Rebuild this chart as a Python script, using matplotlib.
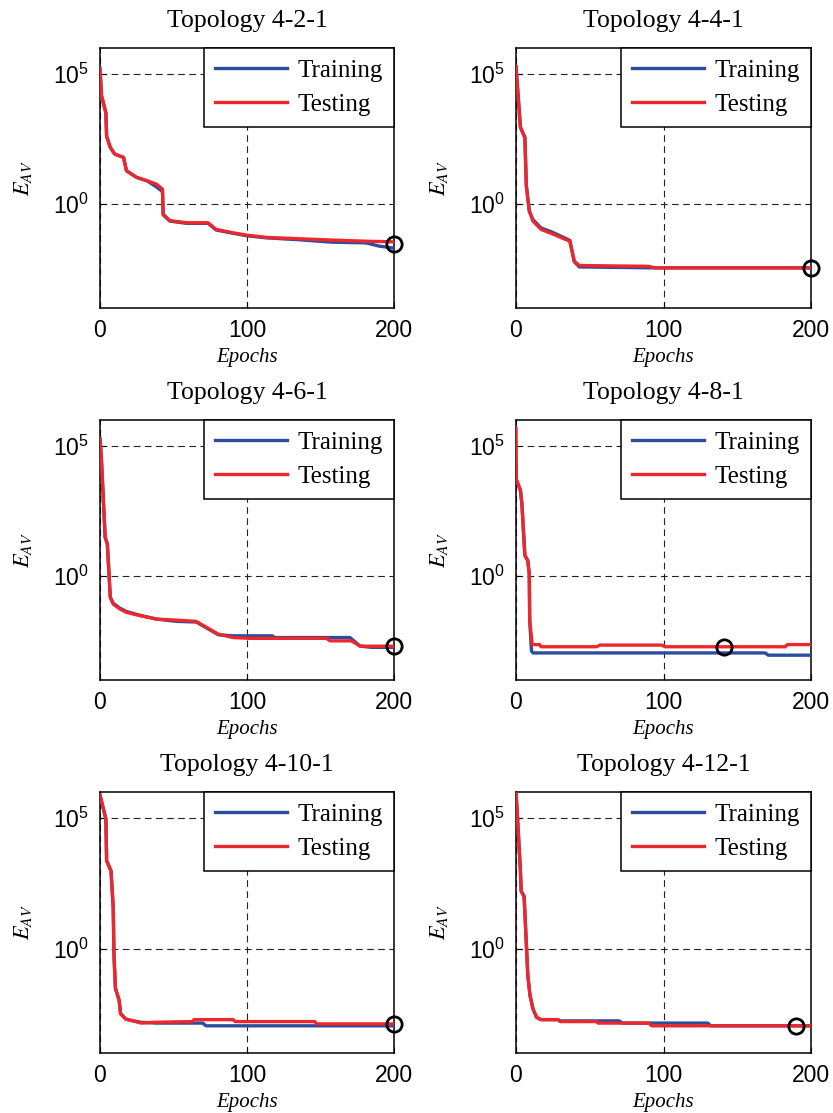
import matplotlib
matplotlib.use("Agg")
import matplotlib.pyplot as plt
from matplotlib.ticker import FixedLocator, NullLocator

plt.rcParams['font.family'] = ['Liberation Sans', 'DejaVu Sans']
plt.rcParams['mathtext.fontset'] = 'stix'

titles = ["Topology 4-2-1", "Topology 4-4-1", "Topology 4-6-1",
          "Topology 4-8-1", "Topology 4-10-1", "Topology 4-12-1"]

# ---- data (epoch, E_AV) ----
train_ep = [
    [0, 1, 4, 4.5, 7, 10, 16, 18, 25, 32, 38.5, 42.5, 43, 47.5, 59, 73.5, 79, 90.5, 100, 113, 136, 158, 181, 190, 200],
    [0, 3, 6, 7, 9, 11.5, 17, 24, 31, 36.5, 39.5, 43, 94, 200],
    [0, 1, 3.5, 5, 7, 9, 13.5, 18, 27, 38.5, 52, 65.5, 72.5, 80.5, 90.5, 117, 119, 170, 177, 185, 200],
    [0, 3, 4, 6, 8, 9, 9.3, 10.5, 11.5, 169, 171, 200],
    [0, 4, 4.5, 7.5, 9, 9.5, 10.5, 13, 14, 17.5, 22.5, 28, 38.5, 70, 72, 200],
    [0, 1.5, 3, 3.5, 5.5, 6.5, 8, 9.5, 11.5, 14, 17, 28.5, 30, 70, 72, 130, 132, 200],
]
train_val = [
    [1.6e5, 1.5e4, 3.2e3, 400, 150, 83, 62, 19, 10.5, 7.8, 4.5, 3.0, 0.38, 0.22, 0.18, 0.18, 0.10, 0.075, 0.060, 0.050, 0.042, 0.034, 0.032, 0.024, 0.020],
    [1.9e5, 890, 360, 5.0, 0.54, 0.25, 0.12, 0.085, 0.056, 0.040, 0.0060, 0.0038, 0.0035, 0.0035],
    [1.9e5, 2.8e4, 31, 17, 0.15, 0.09, 0.058, 0.043, 0.031, 0.022, 0.018, 0.017, 0.0100, 0.0055, 0.0050, 0.0050, 0.0043, 0.0043, 0.0020, 0.0018, 0.0018],
    [5.6e3, 2.0e3, 600, 6.2, 3.9, 1.2, 0.019, 0.0013, 0.0011, 0.0011, 0.0009, 0.0009],
    [7.6e5, 9.3e4, 2.3e3, 950, 36, 0.58, 0.030, 0.0105, 0.0032, 0.0020, 0.0017, 0.0015, 0.0014, 0.0014, 0.0011, 0.0011],
    [1.0e6, 3.3e4, 950, 160, 100, 6.2, 0.095, 0.016, 0.0049, 0.0023, 0.0019, 0.0019, 0.0017, 0.0017, 0.0014, 0.0014, 0.0011, 0.0011],
]
test_ep = [
    [0, 1, 4, 4.5, 7, 10, 16, 18, 25, 32, 38.5, 42.5, 43, 47.5, 59, 73.5, 79, 90.5, 100, 113, 136, 158, 181, 200],
    [0, 3, 6, 7, 9, 11.5, 17, 24, 31, 36.5, 39.5, 43, 90, 94, 200],
    [0, 1, 3.5, 5, 7, 9, 13.5, 18, 27, 38.5, 52, 65.5, 72.5, 80.5, 90.5, 102, 154, 156.5, 171, 177, 200],
    [0, 0.3, 3, 4, 6, 8, 9, 9.3, 11, 16, 17, 54.5, 57, 99, 101, 182.5, 184, 200],
    [0, 4, 4.5, 7.5, 9, 9.5, 10.5, 13, 14, 17.5, 22.5, 28, 36.5, 63, 64, 90.5, 92, 146, 147.5, 200],
    [0, 1.5, 3, 3.5, 5.5, 6.5, 8, 9.5, 11.5, 14, 17, 28.5, 30, 54.5, 55.5, 90, 92, 200],
]
test_val = [
    [1.6e5, 1.5e4, 3.2e3, 400, 150, 83, 62, 19, 10.5, 7.8, 5.8, 3.7, 0.40, 0.23, 0.19, 0.19, 0.105, 0.078, 0.063, 0.052, 0.046, 0.041, 0.037, 0.035],
    [1.9e5, 890, 360, 5.0, 0.54, 0.22, 0.105, 0.074, 0.050, 0.037, 0.0063, 0.0043, 0.0040, 0.0035, 0.0035],
    [1.9e5, 2.8e4, 31, 17, 0.15, 0.083, 0.054, 0.040, 0.030, 0.022, 0.020, 0.018, 0.0105, 0.0058, 0.0043, 0.0040, 0.0040, 0.0032, 0.0032, 0.0020, 0.0020],
    [4.8e5, 4.9e3, 2.0e3, 600, 6.2, 3.9, 1.2, 0.019, 0.0023, 0.0023, 0.0019, 0.0019, 0.0022, 0.0022, 0.0019, 0.0019, 0.0023, 0.0023],
    [7.6e5, 9.3e4, 2.3e3, 950, 36, 0.58, 0.030, 0.0105, 0.0032, 0.0020, 0.0017, 0.0014, 0.0015, 0.0016, 0.0019, 0.0019, 0.0016, 0.0016, 0.0013, 0.0013],
    [1.0e6, 3.3e4, 950, 160, 100, 6.2, 0.095, 0.016, 0.0049, 0.0023, 0.0019, 0.0019, 0.0016, 0.0016, 0.0014, 0.0014, 0.0011, 0.0011],
]
best_ep = [200, 200, 200, 141, 200, 189.5]
best_val = [0.030, 0.0035, 0.0020, 0.0019, 0.0013, 0.0011]

x_ticks = [0, 100, 200]
y_ticks = [1e0, 1e5]

W, H = 833, 1113
fig = plt.figure(figsize=(W / 100, H / 100), dpi=100)

col_lr = [(100, 394), (516, 811)]
row_tb = [(48, 308), (420, 680), (792, 1053)]

blue = '#2C4CA0'
red = '#EE272C'
serif = ['Liberation Serif', 'DejaVu Serif']

for i in range(6):
    r, c = divmod(i, 2)
    l, rr = col_lr[c]
    t, b = row_tb[r]
    ax = fig.add_axes([l / W, 1 - b / H, (rr - l) / W, (b - t) / H])
    ax.set_yscale('log')
    ax.plot(train_ep[i], train_val[i], color=blue, lw=2.4, label='Training', zorder=3)
    ax.plot(test_ep[i], test_val[i], color=red, lw=2.4, label='Testing', zorder=4)
    ax.plot([best_ep[i]], [best_val[i]], 'o', ms=11, mfc='none', mec='black', mew=2.0,
            zorder=5, clip_on=False)
    ax.set_xlim(0, 200)
    ax.set_ylim(1e-4, 1e6)
    ax.xaxis.set_major_locator(FixedLocator(x_ticks))
    ax.yaxis.set_major_locator(FixedLocator(y_ticks))
    ax.yaxis.set_minor_locator(NullLocator())
    ax.grid(True, which='major', color='#222222', linestyle=(0, (6, 4)), lw=0.8)
    ax.set_axisbelow(True)
    ax.tick_params(direction='in', length=4, width=0.8, labelsize=16.5, pad=8,
                   top=False, right=False)
    for s in ax.spines.values():
        s.set_linewidth(1.1)
    ax.set_title(titles[i], fontsize=18.5, family=serif, pad=15)
    ax.set_xlabel('Epochs', fontsize=15, family=serif, style='italic')
    ax.xaxis.set_label_coords(0.5, -0.155)
    ax.set_ylabel('$E_{AV}$', fontsize=16)
    ax.yaxis.set_label_coords(-0.225, 0.5)
    leg = ax.legend(loc='upper right', borderaxespad=0, fancybox=False,
                    edgecolor='black', framealpha=1, prop={'family': serif, 'size': 18},
                    handlelength=2.9, handletextpad=0.4, labelspacing=0.45,
                    borderpad=0.45)
    leg.get_frame().set_linewidth(1.1)
    leg.set_zorder(6)

fig.savefig('out.png', dpi=100)
